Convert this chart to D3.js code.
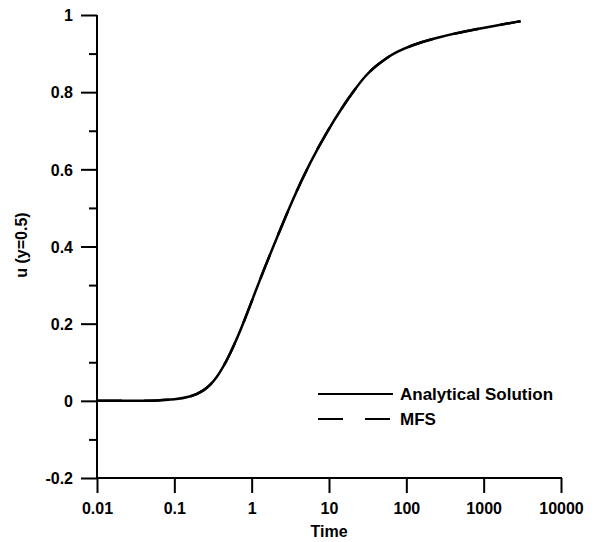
<!DOCTYPE html>
<html>
<head>
<meta charset="utf-8">
<script src="https://cdn.jsdelivr.net/npm/d3@7"></script>
<style>
  html, body { margin: 0; padding: 0; background: #fff; }
  svg text { font-family: "Liberation Sans", Arial, sans-serif; font-weight: bold; fill: #000; }
</style>
</head>
<body>
<svg id="chart" width="595" height="542"></svg>
<script>
// ---- data ----
const timeValues  = [0.01, 0.03, 0.063, 0.1, 0.16, 0.237, 0.353, 0.526, 0.782, 1.25, 2.11, 3.47, 5.7, 9.36, 15.4, 21.8, 29.3, 39.8, 55, 75.3, 120, 203, 548, 1483, 3000];
const analyticalU = [0, 0, 0.001, 0.003, 0.01, 0.024, 0.057, 0.12, 0.2, 0.31, 0.422, 0.527, 0.618, 0.697, 0.766, 0.808, 0.842, 0.867, 0.888, 0.905, 0.922, 0.937, 0.957, 0.973, 0.984];
const mfsU        = [0, 0, 0.001, 0.003, 0.01, 0.024, 0.057, 0.12, 0.2, 0.31, 0.422, 0.527, 0.618, 0.697, 0.766, 0.808, 0.842, 0.867, 0.888, 0.905, 0.922, 0.937, 0.957, 0.973, 0.984];
const xTickValues = [0.01, 0.1, 1, 10, 100, 1000, 10000];
const xTickLabels = ["0.01", "0.1", "1", "10", "100", "1000", "10000"];
const yMajorTicks = [-0.2, 0, 0.2, 0.4, 0.6, 0.8, 1];
const yTickLabels = ["-0.2", "0", "0.2", "0.4", "0.6", "0.8", "1"];
const yMinorTicks = [-0.1, 0.1, 0.3, 0.5, 0.7, 0.9];
const seriesNames = ["Analytical Solution", "MFS"];
const xTitle = "Time";
const yTitle = "u (y=0.5)";

// ---- layout ----
const svg = d3.select("#chart");
const x = d3.scaleLog().domain([0.01, 10000]).range([97, 561]);
const y = d3.scaleLinear().domain([-0.2, 1]).range([478, 15]);

const fs = 16;

// y axis (ticks pointing left)
const yAxis = d3.axisLeft(y).tickValues(yMajorTicks).tickSize(16)
  .tickFormat((d, i) => yTickLabels[i]).tickPadding(8);
const gy = svg.append("g").attr("transform", `translate(${x.range()[0]},0)`).call(yAxis);
gy.select(".domain").attr("stroke", "#000").attr("stroke-width", 2).attr("d", `M0,${y(-0.2)+1}V${y(1)}`);
gy.selectAll(".tick line").attr("stroke", "#000").attr("stroke-width", 2);
gy.selectAll(".tick text").attr("font-size", fs).attr("font-family", null).attr("dy", "0.36em");
const yMinor = d3.axisLeft(y).tickValues(yMinorTicks).tickSize(8).tickFormat("");
const gym = svg.append("g").attr("transform", `translate(${x.range()[0]},0)`).call(yMinor);
gym.select(".domain").remove();
gym.selectAll(".tick line").attr("stroke", "#000").attr("stroke-width", 2);

// x axis (ticks pointing down)
const xAxis = d3.axisBottom(x).tickValues(xTickValues).tickSize(15)
  .tickFormat((d, i) => xTickLabels[i]).tickPadding(10);
const gx = svg.append("g").attr("transform", `translate(0,${y(-0.2)})`).call(xAxis);
gx.select(".domain").attr("stroke", "#000").attr("stroke-width", 2).attr("d", `M${x(0.01)-1},0H${x(10000)+1}`);
gx.selectAll(".tick line").attr("stroke", "#000").attr("stroke-width", 2);
gx.selectAll(".tick text").attr("font-size", fs).attr("font-family", null);

// titles
svg.append("text").attr("x", 329).attr("y", 537).attr("text-anchor", "middle")
  .attr("font-size", fs).text(xTitle);
svg.append("text").attr("transform", "translate(27,245) rotate(-90)").attr("text-anchor", "middle")
  .attr("font-size", fs).text(yTitle);

// curves
const line = d3.line().x(d => x(d[0])).y(d => y(d[1])).curve(d3.curveBasis);
svg.append("path").datum(timeValues.map((t, i) => [t, analyticalU[i]]))
  .attr("d", line).attr("fill", "none").attr("stroke", "#000").attr("stroke-width", 2.5);
svg.append("path").datum(timeValues.map((t, i) => [t, mfsU[i]]))
  .attr("d", line).attr("fill", "none").attr("stroke", "#000").attr("stroke-width", 2.5)
  .attr("stroke-dasharray", "25,22");

// legend
const legend = svg.append("g");
const legendY = [394, 419];
const legendDash = [null, "25,22"];
seriesNames.forEach((name, i) => {
  legend.append("line").attr("x1", 318).attr("x2", 393).attr("y1", legendY[i]).attr("y2", legendY[i])
    .attr("stroke", "#000").attr("stroke-width", 2).attr("stroke-dasharray", legendDash[i]);
  legend.append("text").attr("x", 400).attr("y", legendY[i] + 6).attr("font-size", 17).text(name);
});
</script>
</body>
</html>
